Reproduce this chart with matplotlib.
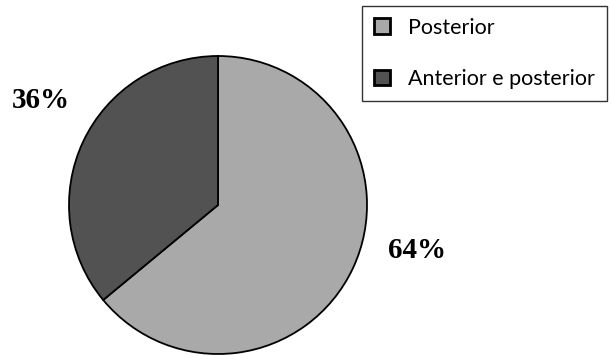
import matplotlib.pyplot as plt

labels = ["Posterior", "Anterior e posterior"]
values = [64, 36]
colors = ["#a9a9a9", "#525252"]

fig = plt.figure(figsize=(6.11, 3.55), dpi=100)
ax = fig.add_axes([0, 0, 1, 1])

wedges, _ = ax.pie(values, colors=colors, startangle=90, counterclock=False,
                   center=(218, 150), radius=149, frame=True,
                   wedgeprops=dict(edgecolor="black", linewidth=1.3))
ax.set_xlim(0, 611)
ax.set_ylim(0, 355)
ax.axis("off")

# percentage labels beside the slices
ax.text(41, 254, f"{values[1]}%", fontsize=21, fontweight="bold",
        family="Liberation Serif", ha="center", va="center")
ax.text(417, 104, f"{values[0]}%", fontsize=21, fontweight="bold",
        family="Liberation Serif", ha="center", va="center")

leg = ax.legend(wedges, labels, loc="upper left",
                bbox_to_anchor=(362 / 611, 1 - 6 / 355), bbox_transform=fig.transFigure,
                fancybox=False, frameon=True, edgecolor="black",
                prop=dict(family="Lato", size=15.5),
                handlelength=0.75, handleheight=0.75, handletextpad=0.85,
                labelspacing=1.45, borderpad=0.55, borderaxespad=0)
leg.get_frame().set_linewidth(1.0)
for h in leg.legend_handles:
    h.set_linewidth(2.0)

fig.savefig("out.png", dpi=100)
